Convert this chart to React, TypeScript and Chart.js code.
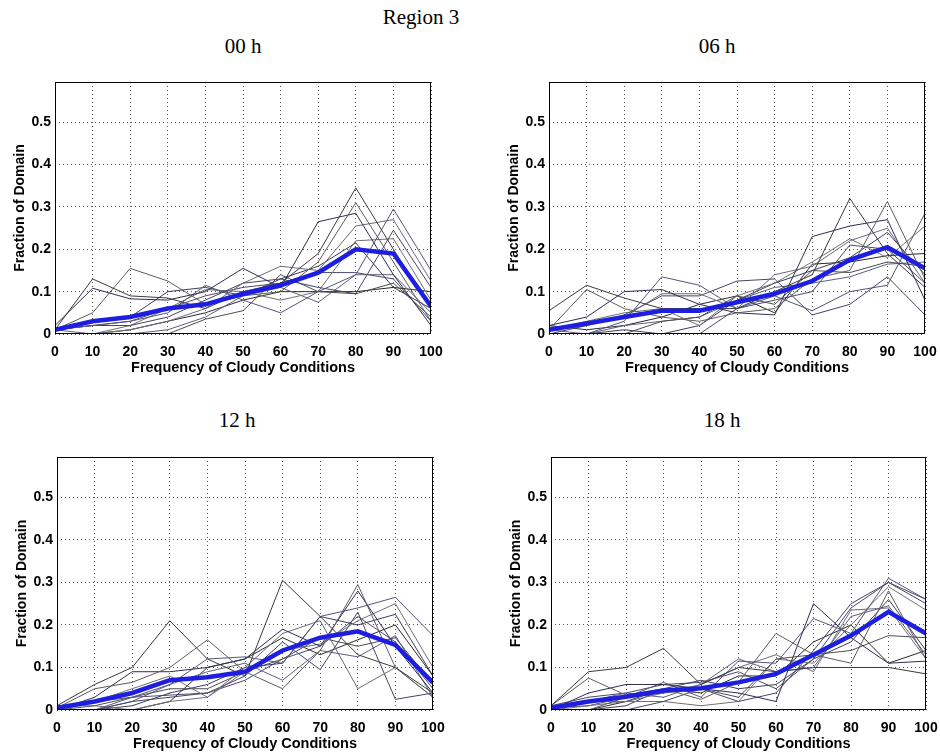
import React, { useEffect, useRef } from "react";
import { Chart, registerables } from "chart.js";

Chart.register(...registerables);

// ---------- data ----------
const cloudFreq = [0, 10, 20, 30, 40, 50, 60, 70, 80, 90, 100];
const yTickValues = [0, 0.1, 0.2, 0.3, 0.4, 0.5];
const xTickValues = [0, 10, 20, 30, 40, 50, 60, 70, 80, 90, 100];

const pageTitle = "Region 3";
const panelTitles = ["00 h", "06 h", "12 h", "18 h"];
const xAxisTitle = "Frequency of Cloudy Conditions";
const yAxisTitle = "Fraction of Domain";

const mean00 = [0.01, 0.03, 0.04, 0.06, 0.07, 0.095, 0.115, 0.145, 0.2, 0.19, 0.065];
const runs00 = [
  [0.01, 0.13, 0.09, 0.085, 0.06, 0.1, 0.12, 0.19, 0.345, 0.2, 0.06],
  [0.01, 0.05, 0.155, 0.125, 0.07, 0.09, 0.1, 0.17, 0.31, 0.17, 0.03],
  [0.02, 0.108, 0.083, 0.08, 0.1, 0.155, 0.11, 0.265, 0.285, 0.14, 0.02],
  [0.01, 0.02, 0.03, 0.05, 0.115, 0.08, 0.05, 0.1, 0.14, 0.295, 0.15],
  [0.0, 0.0, 0.01, 0.03, 0.06, 0.12, 0.16, 0.15, 0.255, 0.27, 0.125],
  [0.01, 0.02, 0.02, 0.04, 0.08, 0.12, 0.13, 0.11, 0.095, 0.245, 0.11],
  [0.0, 0.0, 0.02, 0.06, 0.105, 0.1, 0.08, 0.1, 0.22, 0.225, 0.08],
  [0.01, 0.03, 0.04, 0.1, 0.11, 0.09, 0.13, 0.16, 0.215, 0.11, 0.06],
  [0.0, 0.0, 0.0, 0.0, 0.035, 0.055, 0.14, 0.1, 0.095, 0.12, 0.04],
  [0.01, 0.0, 0.0, 0.01, 0.04, 0.09, 0.11, 0.075, 0.14, 0.14, 0.05],
  [0.0, 0.0, 0.01, 0.03, 0.05, 0.08, 0.1, 0.1, 0.1, 0.11, 0.1],
  [0.01, 0.02, 0.03, 0.06, 0.09, 0.11, 0.12, 0.145, 0.145, 0.13, 0.03],
];

const mean06 = [0.01, 0.025, 0.04, 0.055, 0.055, 0.075, 0.095, 0.125, 0.175, 0.205, 0.155];
const runs06 = [
  [0.055, 0.115, 0.085, 0.06, 0.06, 0.06, 0.1, 0.14, 0.32, 0.19, 0.11],
  [0.01, 0.105, 0.06, 0.04, 0.03, 0.05, 0.06, 0.13, 0.15, 0.313, 0.13],
  [0.02, 0.04, 0.1, 0.105, 0.07, 0.05, 0.045, 0.23, 0.255, 0.27, 0.08],
  [0.0, 0.0, 0.03, 0.135, 0.115, 0.06, 0.09, 0.055, 0.1, 0.115, 0.285],
  [0.01, 0.02, 0.04, 0.095, 0.095, 0.06, 0.14, 0.16, 0.22, 0.25, 0.12],
  [0.0, 0.02, 0.045, 0.09, 0.09, 0.125, 0.13, 0.045, 0.07, 0.135, 0.045],
  [0.01, 0.03, 0.05, 0.06, 0.02, 0.09, 0.12, 0.17, 0.225, 0.18, 0.255],
  [0.0, 0.0, 0.01, 0.0, 0.02, 0.08, 0.12, 0.15, 0.18, 0.24, 0.14],
  [0.0, 0.0, 0.0, 0.03, 0.04, 0.09, 0.07, 0.15, 0.145, 0.17, 0.16],
  [0.01, 0.0, 0.02, 0.03, 0.04, 0.08, 0.11, 0.12, 0.135, 0.165, 0.17],
  [0.02, 0.01, 0.02, 0.04, 0.07, 0.09, 0.05, 0.165, 0.17, 0.185, 0.19],
  [0.0, 0.0, 0.0, 0.0, 0.0, 0.06, 0.08, 0.1, 0.21, 0.2, 0.12],
];

const mean12 = [0.005, 0.02, 0.04, 0.07, 0.077, 0.09, 0.14, 0.17, 0.185, 0.153, 0.064];
const runs12 = [
  [0.01, 0.06, 0.1, 0.21, 0.12, 0.08, 0.305, 0.22, 0.13, 0.1, 0.04],
  [0.005, 0.05, 0.065, 0.1, 0.165, 0.09, 0.05, 0.14, 0.295, 0.1, 0.03],
  [0.0, 0.03, 0.09, 0.09, 0.1, 0.12, 0.19, 0.15, 0.28, 0.15, 0.04],
  [0.0, 0.0, 0.03, 0.06, 0.12, 0.125, 0.11, 0.22, 0.24, 0.265, 0.175],
  [0.0, 0.02, 0.05, 0.08, 0.03, 0.1, 0.18, 0.21, 0.05, 0.1, 0.03],
  [0.0, 0.0, 0.02, 0.03, 0.04, 0.08, 0.16, 0.095, 0.23, 0.025, 0.04],
  [0.01, 0.01, 0.0, 0.02, 0.03, 0.09, 0.14, 0.155, 0.21, 0.25, 0.1],
  [0.0, 0.0, 0.01, 0.04, 0.06, 0.1, 0.11, 0.22, 0.2, 0.225, 0.08],
  [0.0, 0.01, 0.03, 0.05, 0.05, 0.09, 0.12, 0.17, 0.15, 0.17, 0.06],
  [0.0, 0.0, 0.02, 0.06, 0.09, 0.11, 0.07, 0.14, 0.125, 0.175, 0.03],
  [0.0, 0.0, 0.0, 0.02, 0.1, 0.12, 0.17, 0.13, 0.165, 0.2, 0.08],
  [0.005, 0.02, 0.03, 0.035, 0.04, 0.07, 0.12, 0.15, 0.22, 0.16, 0.05],
];

const mean18 = [0.005, 0.02, 0.031, 0.046, 0.051, 0.065, 0.085, 0.13, 0.175, 0.231, 0.18];
const runs18 = [
  [0.01, 0.09, 0.1, 0.145, 0.06, 0.1, 0.09, 0.1, 0.1, 0.1, 0.085],
  [0.01, 0.075, 0.035, 0.05, 0.025, 0.065, 0.18, 0.13, 0.11, 0.28, 0.12],
  [0.0, 0.04, 0.06, 0.06, 0.05, 0.04, 0.02, 0.25, 0.17, 0.11, 0.115],
  [0.0, 0.0, 0.03, 0.065, 0.03, 0.115, 0.11, 0.215, 0.18, 0.31, 0.26],
  [0.005, 0.02, 0.02, 0.04, 0.06, 0.1, 0.13, 0.09, 0.235, 0.24, 0.12],
  [0.0, 0.0, 0.0, 0.02, 0.05, 0.02, 0.04, 0.14, 0.25, 0.3, 0.25],
  [0.0, 0.01, 0.02, 0.02, 0.01, 0.02, 0.12, 0.11, 0.2, 0.29, 0.235],
  [0.0, 0.0, 0.01, 0.05, 0.07, 0.05, 0.06, 0.12, 0.16, 0.26, 0.14],
  [0.005, 0.01, 0.03, 0.04, 0.05, 0.03, 0.12, 0.13, 0.14, 0.175, 0.17],
  [0.0, 0.02, 0.04, 0.03, 0.06, 0.12, 0.09, 0.1, 0.22, 0.245, 0.13],
  [0.0, 0.0, 0.02, 0.05, 0.04, 0.08, 0.08, 0.16, 0.2, 0.11, 0.14],
  [0.01, 0.03, 0.04, 0.06, 0.065, 0.09, 0.05, 0.12, 0.24, 0.3, 0.26],
];

// ---------- styles ----------
const runColors = [
  "#3a3a3a", "#5c5c5c", "#2e2e50", "#55557a", "#6a6a78", "#444466",
  "#707070", "#3c3c5c", "#4e4e4e", "#5e5e80", "#2a2a2a", "#4a4a6a",
];
const meanColor = "#1e1ee0";
const gridColor = "#555555";
const sansFont = "'Liberation Sans', Arial, Helvetica, sans-serif";
const serifFont = "'Liberation Serif', 'Times New Roman', serif";

const framePlugin = {
  id: "frame",
  afterDatasetsDraw(chart: any) {
    const { ctx, chartArea: a } = chart;
    ctx.save();
    ctx.strokeStyle = "#000";
    ctx.lineWidth = 1;
    ctx.setLineDash([]);
    ctx.strokeRect(
      Math.round(a.left) + 0.5,
      Math.round(a.top) + 0.5,
      Math.round(a.right - a.left) - 1,
      Math.round(a.bottom - a.top) - 1
    );
    ctx.restore();
  },
};

function zeroPad(s: any) {
  s.paddingLeft = 0;
  s.paddingRight = 0;
  s.paddingTop = 0;
  s.paddingBottom = 0;
}

type PanelProps = {
  left: number;
  top: number;
  width: number;
  height: number;
  padTop: number;
  padRight: number;
  mean: number[];
  runs: number[][];
};

function Panel({ left, top, width, height, padTop, padRight, mean, runs }: PanelProps) {
  const ref = useRef<HTMLCanvasElement>(null);
  useEffect(() => {
    if (!ref.current) return;
    const datasets: any[] = [
      {
        data: cloudFreq.map((x, i) => ({ x, y: mean[i] })),
        borderColor: meanColor,
        borderWidth: 4.5,
        pointRadius: 0,
        order: 0,
      },
      ...runs.map((r, k) => ({
        data: cloudFreq.map((x, i) => ({ x, y: r[i] })),
        borderColor: runColors[k % runColors.length],
        borderWidth: 1,
        pointRadius: 0,
        order: 1,
      })),
    ];
    const chart = new Chart(ref.current, {
      type: "line",
      data: { datasets },
      plugins: [framePlugin],
      options: {
        animation: false,
        responsive: false,
        devicePixelRatio: 1,
        events: [],
        layout: {
          padding: { left: 0, top: padTop, right: padRight, bottom: 0 },
          autoPadding: false,
        },
        elements: { line: { tension: 0 } },
        plugins: {
          legend: { display: false },
          tooltip: { enabled: false },
          title: { display: false },
        },
        scales: {
          x: {
            type: "linear",
            min: 0,
            max: 100,
            afterBuildTicks: (s: any) => {
              s.ticks = xTickValues.map((v) => ({ value: v }));
            },
            afterFit: (s: any) => {
              s.height = 46;
              zeroPad(s);
            },
            grid: { color: gridColor, lineWidth: 1, drawTicks: false },
            border: { display: false, dash: [1, 3] },
            ticks: {
              color: "#000",
              padding: 10,
              maxRotation: 0,
              autoSkip: false,
              font: { family: sansFont, size: 14, weight: "bold" },
            },
            title: {
              display: true,
              text: xAxisTitle,
              color: "#000",
              font: { family: sansFont, size: 14.5, weight: "bold" },
              padding: { top: 0, bottom: 3 },
            },
          },
          y: {
            type: "linear",
            min: 0,
            max: 0.595,
            afterBuildTicks: (s: any) => {
              s.ticks = yTickValues.map((v) => ({ value: v }));
            },
            afterFit: (s: any) => {
              s.width = 55;
              zeroPad(s);
            },
            grid: { color: gridColor, lineWidth: 1, drawTicks: false },
            border: { display: false, dash: [1, 3] },
            ticks: {
              color: "#000",
              padding: 4,
              autoSkip: false,
              font: { family: sansFont, size: 14, weight: "bold" },
              callback: (v: any) => (Number(v) === 0 ? "0" : Number(v).toFixed(1)),
            },
            title: {
              display: true,
              text: yAxisTitle,
              color: "#000",
              font: { family: sansFont, size: 14, weight: "bold" },
              padding: { top: 12, bottom: 0 },
            },
          },
        },
      } as any,
    });
    return () => chart.destroy();
  }, []);
  return (
    <canvas
      ref={ref}
      width={width}
      height={height}
      style={{ position: "absolute", left, top, width, height }}
    />
  );
}

function Title({ text, cx, top }: { text: string; cx: number; top: number }) {
  return (
    <div
      style={{
        position: "absolute",
        left: cx - 100,
        top,
        width: 200,
        textAlign: "center",
        fontFamily: serifFont,
        fontSize: 21,
        lineHeight: "21px",
        color: "#000",
        whiteSpace: "nowrap",
      }}
    >
      {text}
    </div>
  );
}

export default function App() {
  return (
    <div
      style={{
        position: "absolute",
        left: 0,
        top: 0,
        width: 940,
        height: 754,
        background: "#fff",
        overflow: "hidden",
      }}
    >
      <Title text={pageTitle} cx={421} top={7} />
      <Title text={panelTitles[0]} cx={243} top={36} />
      <Title text={panelTitles[1]} cx={717} top={36} />
      <Title text={panelTitles[2]} cx={237} top={410} />
      <Title text={panelTitles[3]} cx={722} top={410} />
      <Panel left={0} top={70} width={445} height={310} padTop={12} padRight={14} mean={mean00} runs={runs00} />
      <Panel left={494} top={70} width={445} height={310} padTop={12} padRight={14} mean={mean06} runs={runs06} />
      <Panel left={2} top={445} width={445} height={311} padTop={12} padRight={14} mean={mean12} runs={runs12} />
      <Panel left={496} top={445} width={444} height={311} padTop={12} padRight={14} mean={mean18} runs={runs18} />
    </div>
  );
}
